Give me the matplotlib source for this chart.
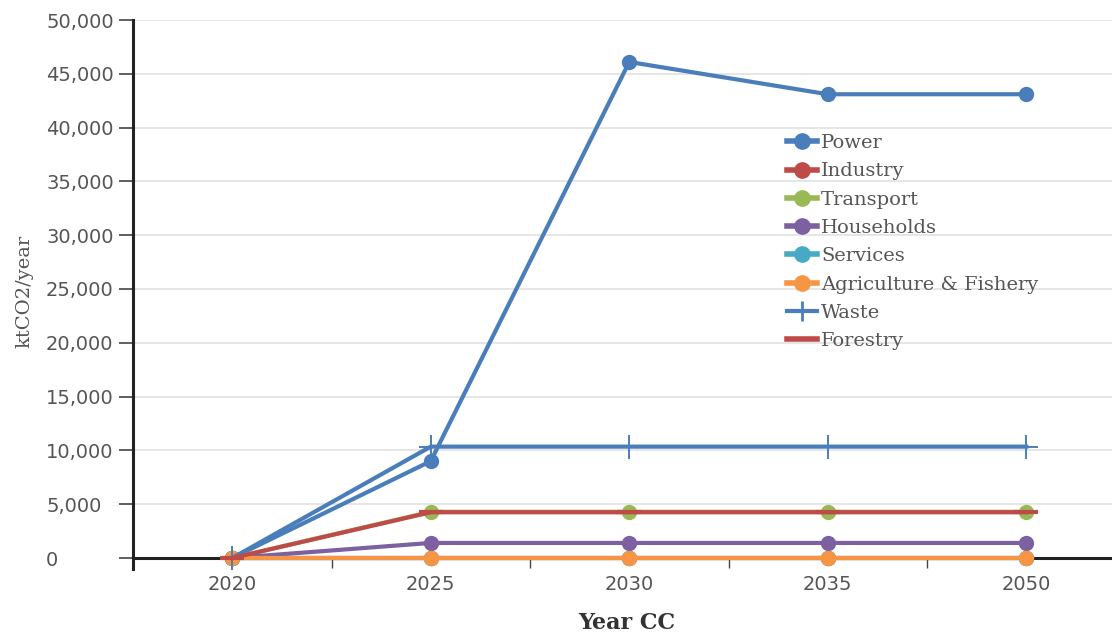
import matplotlib
matplotlib.use("Agg")
import matplotlib.pyplot as plt
from matplotlib.ticker import FuncFormatter, FixedLocator
from matplotlib.lines import Line2D

plt.rcParams['font.family'] = ['DejaVu Serif']

years = ['2020', '2025', '2030', '2035', '2050']
power = [0, 9000, 46100, 43100, 43100]
industry = [0, 0, 0, 0, 0]
transport = [0, 4300, 4300, 4300, 4300]
households = [0, 1400, 1400, 1400, 1400]
services = [0, 0, 0, 0, 0]
agriculture = [0, 0, 0, 0, 0]
waste = [0, 10350, 10350, 10350, 10350]
forestry = [0, 4250, 4250, 4250, 4250]

series = [
    ('Power', power, '#4a7ebb', 'o'),
    ('Industry', industry, '#be4b48', 'o'),
    ('Transport', transport, '#98b954', 'o'),
    ('Households', households, '#7d60a0', 'o'),
    ('Services', services, '#46aac5', 'o'),
    ('Agriculture & Fishery', agriculture, '#f69544', 'o'),
    ('Waste', waste, '#4a7ebb', '+'),
    ('Forestry', forestry, '#be4b48', '_'),
]

W, H = 1112, 634
fig = plt.figure(figsize=(W / 100, H / 100), dpi=100)
left, bottom, top = 133, 558, 20
band = 198.5
ax = fig.add_axes([left / W, (H - bottom) / H, 5 * band / W, (bottom - top) / H])

x = list(range(len(years)))
for name, vals, col, mk in series:
    if mk == 'o':
        ax.plot(x, vals, color=col, lw=3, marker='o', ms=10, mec=col, mfc=col,
                label=name, solid_capstyle='round', clip_on=False, zorder=3)
    elif mk == '+':
        ax.plot(x, vals, color=col, lw=3, marker='|', ms=17, mew=1.4,
                label=name, clip_on=False, zorder=3)
        ax.plot(x, vals, color=col, lw=0, marker='_', ms=17, mew=1.4, clip_on=False, zorder=3)
    else:
        ax.plot(x, vals, color=col, lw=3, marker='_', ms=17, mew=3,
                label=name, clip_on=False, zorder=3)

ax.set_xlim(-0.5, 4.5)
ax.set_ylim(0, 50000)
ax.set_yticks(range(0, 50001, 5000))
ax.yaxis.set_major_formatter(FuncFormatter(lambda v, p: f'{int(v):,}'))
ax.set_xticks(x)
ax.set_xticklabels(years)
ax.xaxis.set_minor_locator(FixedLocator([0.5, 1.5, 2.5, 3.5]))
ax.tick_params(axis='x', which='major', length=0, pad=12, labelsize=14, labelcolor='#555555')
ax.tick_params(axis='x', which='minor', length=7, width=1, color='#444444', direction='out')
ax.tick_params(axis='y', length=10, width=1.2, color='#444444', labelsize=14,
               labelcolor='#555555', pad=(133 - 10 - 50) * 0.72)
for lab in ax.get_xticklabels() + ax.get_yticklabels():
    lab.set_fontfamily('DejaVu Sans')
for lab in ax.get_yticklabels():
    lab.set_horizontalalignment('left')

ax.grid(axis='y', color='#e4e4e4', lw=1.3)
ax.set_axisbelow(True)
for s in ['top', 'right']:
    ax.spines[s].set_visible(False)
ax.spines['left'].set_linewidth(2.2)
ax.spines['left'].set_color('#222222')
ax.spines['left'].set_bounds(-1000, 50000)
ax.spines['bottom'].set_linewidth(2.2)
ax.spines['bottom'].set_color('#222222')

fig.text(24 / W, 1 - 291 / H, 'ktCO2/year', rotation=90, va='center', ha='center',
         fontsize=14, color='#555555')
fig.text(627 / W, 22 / H, 'Year CC', va='top', ha='center', fontsize=16,
         fontweight='bold', color='#333333')

hs = []
for name, vals, col, mk in series:
    if mk == 'o':
        hs.append(Line2D([], [], color=col, lw=4, marker='o', ms=11))
    elif mk == '+':
        hs.append(Line2D([], [], color=col, lw=3, marker='|', ms=14, mew=2))
    else:
        hs.append(Line2D([], [], color=col, lw=4))
leg = fig.legend(hs, [s[0] for s in series], loc='upper left',
                 bbox_to_anchor=(787 / W, 1 - 134 / H), frameon=False,
                 fontsize=14, handlelength=1.55, handletextpad=0.2,
                 labelspacing=0.53, borderaxespad=0, borderpad=0)
for t in leg.get_texts():
    t.set_color('#555555')

fig.savefig('out.png', dpi=100)
